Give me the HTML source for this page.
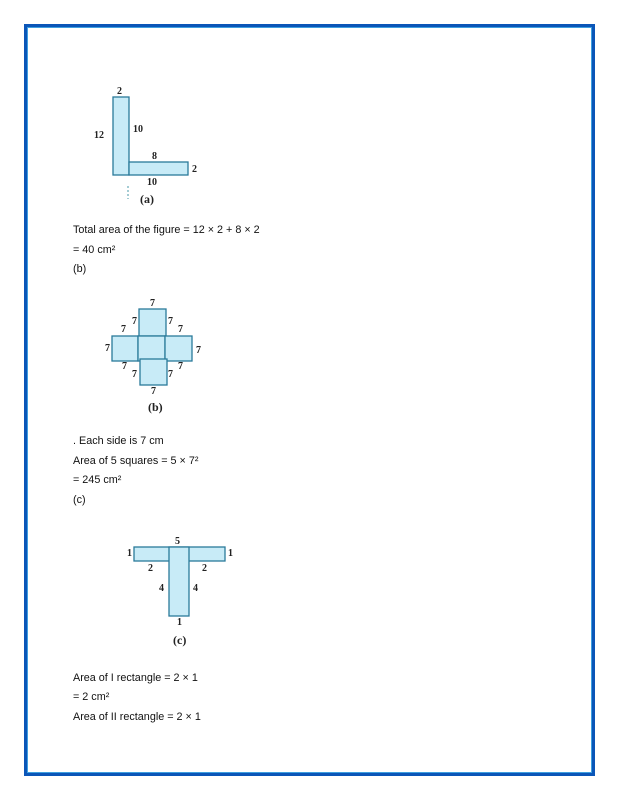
<!DOCTYPE html>
<html><head><meta charset="utf-8"><style>
body{margin:0;width:618px;height:799px;background:#fff;position:relative;overflow:hidden;font-family:"Liberation Sans",sans-serif}
.frame{position:absolute;left:24px;top:24px;width:565px;height:746px;border:3px solid #0b56b8;box-shadow:inset 0 0 0 1px #3fa0e0}
.t{position:absolute;left:73px;font-size:10.8px;color:#111;white-space:nowrap}
.l{position:absolute;font-family:"Liberation Serif",serif;font-size:10px;font-weight:bold;color:#222}
.cap{position:absolute;font-family:"Liberation Serif",serif;font-size:12px;font-weight:bold;color:#222}
</style></head><body>
<div class="frame"></div>

<svg style="position:absolute;left:0;top:0" width="618" height="799">
<g fill="#c8ebf7" stroke="#2a7a9a" stroke-width="1.3">
<rect x="113" y="97" width="16" height="78"/>
<rect x="129" y="162" width="59" height="13"/>
</g>
<line x1="128" y1="186" x2="128" y2="199" stroke="#4a9aaa" stroke-dasharray="2,2"/>
<g fill="#c8ebf7" stroke="#2a7a9a" stroke-width="1.3">
<rect x="139" y="309" width="27" height="27"/>
<rect x="112" y="336" width="26" height="25"/>
<rect x="138" y="336" width="27" height="25"/>
<rect x="165" y="336" width="27" height="25"/>
<rect x="140" y="359" width="27" height="26"/>
</g>
<g fill="#c8ebf7" stroke="#2a7a9a" stroke-width="1.3">
<rect x="134" y="547" width="91" height="14"/>
<rect x="169" y="547" width="20" height="69"/>
</g>
</svg>

<div class="l" style="left:117px;top:86px">2</div>
<div class="l" style="left:94px;top:130px">12</div>
<div class="l" style="left:133px;top:124px">10</div>
<div class="l" style="left:152px;top:151px">8</div>
<div class="l" style="left:192px;top:164px">2</div>
<div class="l" style="left:147px;top:177px">10</div>
<div class="cap" style="left:140px;top:192px">(a)</div>

<div class="l" style="left:150px;top:298px">7</div>
<div class="l" style="left:132px;top:316px">7</div>
<div class="l" style="left:168px;top:316px">7</div>
<div class="l" style="left:121px;top:324px">7</div>
<div class="l" style="left:178px;top:324px">7</div>
<div class="l" style="left:105px;top:343px">7</div>
<div class="l" style="left:196px;top:345px">7</div>
<div class="l" style="left:122px;top:361px">7</div>
<div class="l" style="left:178px;top:361px">7</div>
<div class="l" style="left:132px;top:369px">7</div>
<div class="l" style="left:168px;top:369px">7</div>
<div class="l" style="left:151px;top:386px">7</div>
<div class="cap" style="left:148px;top:400px">(b)</div>

<div class="l" style="left:175px;top:536px">5</div>
<div class="l" style="left:127px;top:548px">1</div>
<div class="l" style="left:228px;top:548px">1</div>
<div class="l" style="left:148px;top:563px">2</div>
<div class="l" style="left:202px;top:563px">2</div>
<div class="l" style="left:159px;top:583px">4</div>
<div class="l" style="left:193px;top:583px">4</div>
<div class="l" style="left:177px;top:617px">1</div>
<div class="cap" style="left:173px;top:633px">(c)</div>

<div class="t" style="top:224px">Total area of the figure = 12 × 2 + 8 × 2</div>
<div class="t" style="top:244px">= 40 cm²</div>
<div class="t" style="top:263px">(b)</div>
<div class="t" style="top:435px">. Each side is 7 cm</div>
<div class="t" style="top:455px">Area of 5 squares = 5 × 7²</div>
<div class="t" style="top:474px">= 245 cm²</div>
<div class="t" style="top:494px">(c)</div>
<div class="t" style="top:672px">Area of I rectangle = 2 × 1</div>
<div class="t" style="top:691px">= 2 cm²</div>
<div class="t" style="top:711px">Area of II rectangle = 2 × 1</div>
</body></html>
